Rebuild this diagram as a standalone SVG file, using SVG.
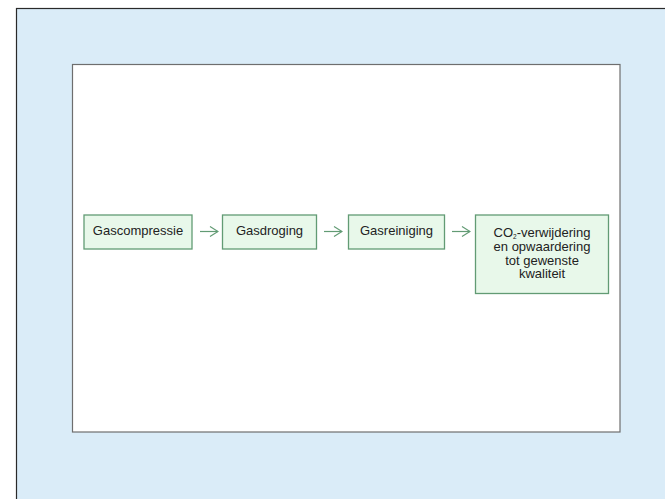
<svg xmlns="http://www.w3.org/2000/svg" width="665" height="499" viewBox="0 0 665 499">
<style>
.node rect{fill:#e8f8ea;stroke:#629b74;stroke-width:1.3}
.node text{font-family:"Liberation Sans",Arial,sans-serif;font-size:13px;fill:#222;text-anchor:middle}
.conn path{fill:none;stroke:#629b74;stroke-width:1.2}
</style>
<defs>
<marker id="arr" markerWidth="10" markerHeight="12" refX="9" refY="6" orient="auto" markerUnits="userSpaceOnUse">
<path d="M1,1 L9,6 L1,11" fill="none" stroke="#629b74" stroke-width="1.2"/>
</marker>
</defs>
<rect x="16.5" y="8.5" width="660" height="500" fill="#daecf8" stroke="#2a2a2a" stroke-width="1.2"/>
<rect x="72.5" y="64.5" width="547.5" height="367.5" fill="#ffffff" stroke="#6e6e6e" stroke-width="1.2"/>
<g id="n1" class="node"><rect x="84" y="215" width="108" height="34"/><text x="138" y="235">Gascompressie</text></g>
<g id="n2" class="node"><rect x="222.5" y="215" width="94" height="34"/><text x="269.5" y="235">Gasdroging</text></g>
<g id="n3" class="node"><rect x="348.5" y="215" width="96" height="34"/><text x="396.5" y="235">Gasreiniging</text></g>
<g id="n4" class="node"><rect x="475.5" y="215" width="133" height="78.5"/>
<text x="542" y="237">CO<tspan font-size="6.5" dy="1.5">2</tspan><tspan dy="-1.5">-verwijdering</tspan></text>
<text x="542" y="251">en opwaardering</text>
<text x="542" y="264.5">tot gewenste</text>
<text x="542" y="278">kwaliteit</text>
</g>
<g id="connectors" class="conn">
<path d="M200,231.5 H218" marker-end="url(#arr)"/>
<path d="M324,231.5 H342" marker-end="url(#arr)"/>
<path d="M452,231.5 H470" marker-end="url(#arr)"/>
</g>
</svg>
